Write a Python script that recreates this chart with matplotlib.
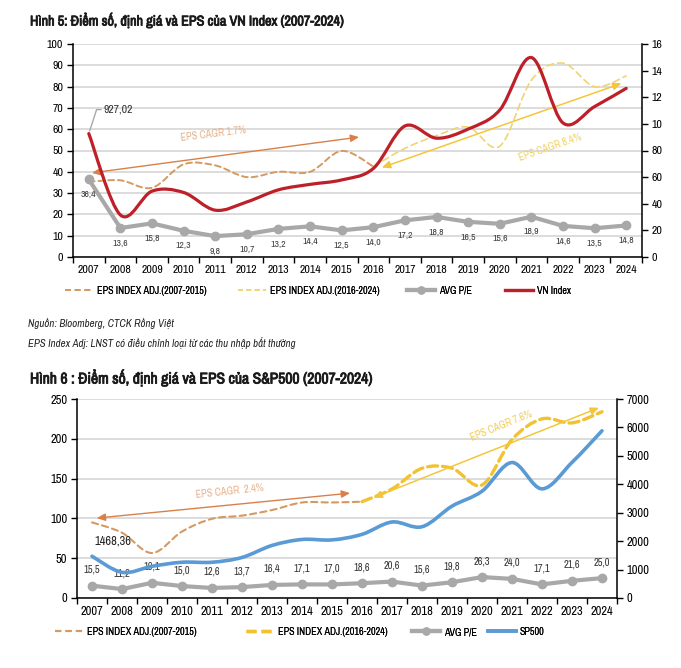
import numpy as np
import matplotlib
matplotlib.use('Agg')
import matplotlib.pyplot as plt
from matplotlib import font_manager, patheffects
from matplotlib.path import Path
from matplotlib.patches import PathPatch
from matplotlib.lines import Line2D

# narrow sans font, closest to the condensed font of the original
names = [f.name for f in font_manager.fontManager.ttflist]
narrow = [n for n in names if 'Narrow' in n or 'Condensed' in n]
if 'Liberation Sans Narrow' in names:
    plt.rcParams['font.family'] = ['Liberation Sans Narrow', 'DejaVu Sans']
elif narrow:
    plt.rcParams['font.family'] = [narrow[0], 'DejaVu Sans']
else:
    plt.rcParams['font.family'] = ['Liberation Sans', 'DejaVu Sans']

years = [str(y) for y in range(2007, 2025)]

# Hinh 5 - VN Index
vn_pe = [36.4, 13.6, 15.8, 12.3, 9.8, 10.7, 13.2, 14.4, 12.5, 14.0, 17.2, 18.8, 16.5, 15.6, 18.9, 14.6, 13.5, 14.8]
vn_index = [927.02, 315.6, 494.8, 484.7, 351.6, 413.7, 504.6, 545.6, 579.0, 664.9,
            984.2, 892.5, 960.9, 1103.9, 1498.3, 1007.1, 1129.9, 1266.8]
vn_eps_old = [35.3, 36.0, 32.5, 43.5, 43.0, 37.5, 40.0, 40.0, 49.8, 42.5]   # 2007-2016
vn_eps_new = [42.5, 51.0, 57.0, 61.0, 52.0, 83.0, 91.0, 80.0, 85.0]         # 2016-2024

# Hinh 6 - S&P500
sp_pe = [15.5, 11.2, 19.1, 15.0, 12.6, 13.7, 16.4, 17.1, 17.0, 18.6, 20.6, 15.6, 19.8, 26.3, 24.0, 17.1, 21.6, 25.0]
sp500 = [1468.36, 903.25, 1115.10, 1257.64, 1257.60, 1426.19, 1848.36, 2058.90, 2043.94, 2238.83,
         2673.61, 2506.85, 3230.78, 3756.07, 4766.18, 3839.50, 4769.83, 5881.63]
sp_eps_old = [95.0, 82.0, 56.5, 83.5, 99.5, 103.5, 110.5, 120.0, 120.0, 121.0]
sp_eps_new = [121.0, 137.0, 163.0, 163.0, 142.0, 199.0, 225.0, 220.0, 234.0]

vn_right_ticks = [0, 200, 400, 600, 800, 1000, 1200, 1400, 1600]
vn_right_labels = ['0', '20', '40', '60', '80', '10', '12', '14', '16']

legend1_labels = ['EPS INDEX ADJ.(2007-2015)', 'EPS INDEX ADJ.(2016-2024)', 'AVG P/E', 'VN Index']
legend2_labels = ['EPS INDEX ADJ.(2007-2015)', 'EPS INDEX ADJ.(2016-2024)', 'AVG P/E', 'SP500']

TAN = '#d49a62'
YEL1 = '#f1d470'
YEL2 = '#f2c230'
GRAY = '#a8a8a8'
RED = '#bd2028'
BLUE = '#5b9bd5'
ORANGE = '#d9804a'
YARROW = '#f3c63c'

W, H = 681, 668


def smooth_path(xs, ys):
    # excel style smoothed line through the points
    verts = [(xs[0], ys[0])]
    codes = [Path.MOVETO]
    n = len(xs)
    for i in range(n - 1):
        a = max(i - 1, 0)
        b = min(i + 2, n - 1)
        verts.append((xs[i] + (xs[i + 1] - xs[a]) / 6, ys[i] + (ys[i + 1] - ys[a]) / 6))
        verts.append((xs[i + 1] - (xs[b] - xs[i]) / 6, ys[i + 1] - (ys[b] - ys[i]) / 6))
        verts.append((xs[i + 1], ys[i + 1]))
        codes += [Path.CURVE4] * 3
    return Path(verts, codes)


def add_curve(ax, xs, ys, **kw):
    ax.add_patch(PathPatch(smooth_path(xs, ys), fill=False, capstyle='round', **kw))


def setup(ax, ax2, ymax, ystep, fs):
    ax.set_xlim(-0.5, 17.5)
    ax.set_ylim(0, ymax)
    ax.set_yticks(np.arange(0, ymax + 1, ystep))
    ax.set_xticks(range(18), years)
    ax.set_xticks(np.arange(-0.5, 18, 1), minor=True)
    ax.tick_params(axis='x', which='major', length=0, pad=6, labelsize=fs)
    ax.tick_params(axis='x', which='minor', length=4, direction='out', width=1)
    ax.tick_params(axis='y', length=4, width=1, labelsize=fs, pad=3)
    ax2.tick_params(axis='y', length=4, width=1, labelsize=fs, pad=3)
    ax.yaxis.grid(True, color='#d9d9d9', lw=1.3)
    ax.set_axisbelow(True)
    for sp in ['top', 'right']:
        ax.spines[sp].set_visible(False)
    for sp in ['top', 'left', 'bottom']:
        ax2.spines[sp].set_visible(False)
    for a in [ax, ax2]:
        for sp in a.spines.values():
            sp.set_linewidth(1.1)


def legend_row(handles, labels, xs_px, y_px, fs):
    # one legend per entry so each sits where it does in the original
    for h, lab, xp in zip(handles, labels, xs_px):
        lg = fig.legend([h], [lab], loc='center left', bbox_to_anchor=(xp / W, 1 - y_px / H),
                        frameon=False, fontsize=fs, handlelength=2.8, handletextpad=0.35,
                        borderpad=0, borderaxespad=0)
        fig.add_artist(lg)


bold = [patheffects.withStroke(linewidth=0.6, foreground='#1a1a1a')]

fig = plt.figure(figsize=(6.81, 6.68), dpi=100)

# ---------------- Hinh 5 ----------------
ax = fig.add_axes([73 / W, 1 - 257 / H, 569 / W, 213 / H])
ax2 = ax.twinx()
setup(ax, ax2, 100, 10, 8.5)
ax2.set_ylim(0, 1600)
ax2.set_yticks(vn_right_ticks, vn_right_labels)

x = np.arange(18)
ax.plot(x, vn_pe, color=GRAY, lw=3, marker='o', ms=6, zorder=3)
for i, v in enumerate(vn_pe):
    ax.annotate(f'{v:.1f}'.replace('.', ','), (i, v), xytext=(0, -15), textcoords='offset pixels',
                ha='center', va='center', fontsize=7, color='#404040')

add_curve(ax, x[:10], vn_eps_old, ec=TAN, lw=1.4, ls=(0, (3, 2)), zorder=2)
add_curve(ax, x[9:], vn_eps_new, ec=YEL1, lw=1.2, ls=(0, (4, 2.5)), zorder=2)
add_curve(ax2, x, vn_index, ec=RED, lw=2.3, zorder=4)

ax.annotate('', xy=(8.55, 56.3), xytext=(0.1, 39.5),
            arrowprops=dict(arrowstyle='<|-|>,head_length=0.5,head_width=0.22', color=ORANGE, lw=1,
                            shrinkA=0, shrinkB=0))
ax.text(3.95, 57.8, 'EPS CAGR 1.7%', rotation=7, ha='center', va='center', fontsize=7.5, color='#e6b08a')
ax.annotate('', xy=(16.85, 81.5), xytext=(9.27, 42),
            arrowprops=dict(arrowstyle='<|-|>,head_length=0.5,head_width=0.22', color=YARROW, lw=1.1,
                            shrinkA=0, shrinkB=0))
ax.text(14.6, 51.5, 'EPS CAGR 8.4%', rotation=19, ha='center', va='center', fontsize=7.5, color='#f0d060')

ax2.annotate('927,02', (0, vn_index[0]), xytext=(15, 24), textcoords='offset pixels',
             ha='left', va='center', fontsize=8.5, color='#333333',
             arrowprops=dict(arrowstyle='-', color=GRAY, lw=1, shrinkA=0, shrinkB=2,
                             relpos=(0, 0.5), connectionstyle='angle,angleA=0,angleB=72,rad=0'))

h1 = [Line2D([], [], color=TAN, lw=1.4, ls=(0, (3, 2))),
      Line2D([], [], color=YEL1, lw=1.2, ls=(0, (3, 2))),
      Line2D([], [], color=GRAY, lw=3, marker='o', ms=5),
      Line2D([], [], color=RED, lw=2.3)]
legend_row(h1, legend1_labels, [65, 238, 407, 505], 291, 7.3)

fig.text(30 / W, 1 - 20 / H, 'Hình 5: Điểm số, định giá và EPS của VN Index (2007-2024)',
         fontsize=10.2, va='center', ha='left', color='#1a1a1a', path_effects=bold)
fig.text(28 / W, 1 - 323 / H, 'Nguồn: Bloomberg, CTCK Rồng Việt', fontsize=7.8, style='italic',
         va='center', color='#222222')
fig.text(28 / W, 1 - 343 / H, 'EPS Index Adj: LNST có điều chỉnh loại từ các thu nhập bất thường',
         fontsize=7.8, style='italic', va='center', color='#222222')

# ---------------- Hinh 6 ----------------
bx = fig.add_axes([77 / W, 1 - 598 / H, 540 / W, 199 / H])
bx2 = bx.twinx()
setup(bx, bx2, 250, 50, 9)
bx2.set_ylim(0, 7000)
bx2.set_yticks(np.arange(0, 7001, 1000))

bx.plot(x, sp_pe, color=GRAY, lw=3, marker='o', ms=6, zorder=3)
for i, v in enumerate(sp_pe):
    bx.annotate(f'{v:.1f}'.replace('.', ','), (i, v), xytext=(0, 16), textcoords='offset pixels',
                ha='center', va='center', fontsize=7.5, color='#333333')

add_curve(bx, x[:10], sp_eps_old, ec=TAN, lw=1.5, ls=(0, (3, 2)), zorder=2)
add_curve(bx, x[9:], sp_eps_new, ec=YEL2, lw=2.4, ls=(0, (3, 1.5)), zorder=2)
add_curve(bx2, x, sp500, ec=BLUE, lw=2.6, zorder=4)

bx.annotate('', xy=(8.6, 131.7), xytext=(0.16, 100.4),
            arrowprops=dict(arrowstyle='<|-|>,head_length=0.5,head_width=0.22', color=ORANGE, lw=1,
                            shrinkA=0, shrinkB=0))
bx.text(4.6, 134, 'EPS CAGR  2.4%', rotation=6, ha='center', va='center', fontsize=7.5, color='#e6b08a')
bx.annotate('', xy=(16.9, 239), xytext=(9.38, 126),
            arrowprops=dict(arrowstyle='<|-|>,head_length=0.5,head_width=0.22', color=YARROW, lw=1.1,
                            shrinkA=0, shrinkB=0))
bx.text(13.65, 216, 'EPS CAGR 7.6%', rotation=22, ha='center', va='center', fontsize=7.5, color='#f0cc50')

bx2.annotate('1468,36', (0, sp500[0]), xytext=(21, 15), textcoords='offset pixels',
             ha='center', va='center', fontsize=9, color='#222222')

h2 = [Line2D([], [], color=TAN, lw=1.5, ls=(0, (3, 2))),
      Line2D([], [], color=YEL2, lw=2.4, ls=(0, (3, 1.5))),
      Line2D([], [], color=GRAY, lw=3, marker='o', ms=5),
      Line2D([], [], color=BLUE, lw=2.6)]
legend_row(h2, legend2_labels, [55, 246, 412, 488], 632, 7.3)

fig.text(30 / W, 1 - 378 / H, 'Hình 6 : Điểm số, định giá và EPS của S&P500 (2007-2024)',
         fontsize=11.2, va='center', ha='left', color='#1a1a1a', path_effects=bold)

fig.savefig('out.png', dpi=100)
